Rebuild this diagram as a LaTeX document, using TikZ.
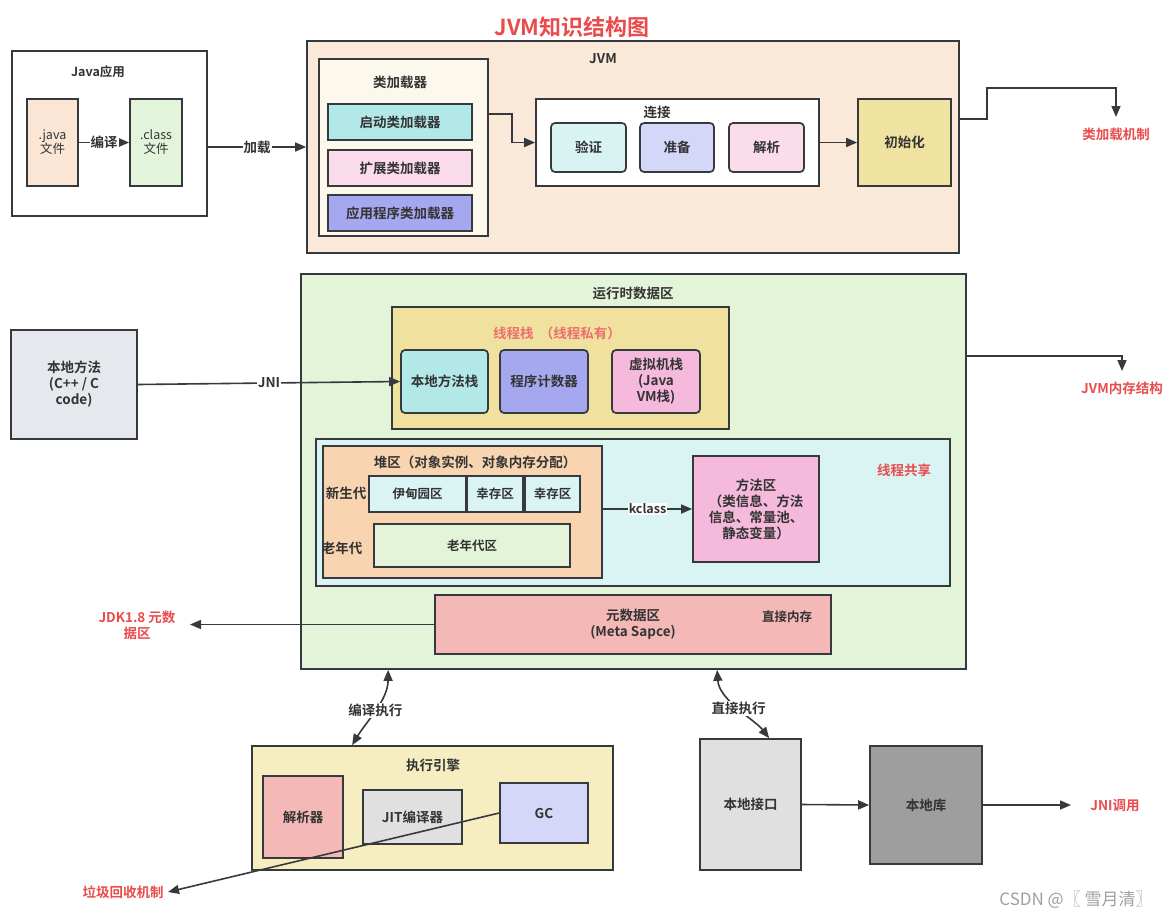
\documentclass[tikz,border=0pt]{standalone}
\usepackage{fontspec}
\setmainfont{Noto Sans CJK SC}[BoldFont={Noto Sans CJK SC Bold}]
\usetikzlibrary{arrows.meta}
\definecolor{bd}{HTML}{36393D}
\definecolor{tx}{HTML}{333333}
\definecolor{rd}{HTML}{EA4B4B}
\definecolor{rdl}{HTML}{EE6E6E}
\definecolor{cpeach}{HTML}{FBE5D5}
\definecolor{clgreen}{HTML}{E2F4DA}
\definecolor{cjvm}{HTML}{FAE8D8}
\definecolor{ccream}{HTML}{FCF8EB}
\definecolor{ccyan}{HTML}{B3E8E9}
\definecolor{cpink}{HTML}{FADCEB}
\definecolor{cviolet}{HTML}{A5A8EF}
\definecolor{clcyan}{HTML}{D7F4F3}
\definecolor{clviolet}{HTML}{D4D7F7}
\definecolor{ckhaki}{HTML}{F0E2A0}
\definecolor{crt}{HTML}{E3F4D9}
\definecolor{cgrayblue}{HTML}{E5E9ED}
\definecolor{cstack}{HTML}{F0E19E}
\definecolor{cmag}{HTML}{F5B9DC}
\definecolor{cshared}{HTML}{DAF3F3}
\definecolor{cheap}{HTML}{F8D4B0}
\definecolor{crose}{HTML}{F4B8B6}
\definecolor{cengine}{HTML}{F6EDC0}
\definecolor{clgray}{HTML}{E0E0E0}
\definecolor{cdgray}{HTML}{9E9E9E}
\definecolor{cwm}{HTML}{A0A0A0}
\tikzset{
  bx/.style={draw=bd, line width=1.7pt, inner sep=0pt, align=center, text=tx, font=\fontsize{13.5}{16}\selectfont\bfseries},
  rbx/.style={bx, rounded corners=4pt},
  lbl/.style={inner sep=1pt, align=center, text=tx, font=\fontsize{13.5}{16}\selectfont\bfseries},
  slbl/.style={inner sep=1pt, align=center, text=tx, font=\fontsize{12.5}{14}\selectfont\bfseries},
  rlbl/.style={inner sep=1pt, align=center, text=rd, font=\fontsize{13.5}{16}\selectfont\bfseries},
  arr/.style={draw=bd, line width=1.6pt, -{Triangle[length=11pt,width=9pt]}},
  darr/.style={draw=bd, line width=1.6pt, {Triangle[length=11pt,width=9pt]}-{Triangle[length=11pt,width=9pt]}},
  wl/.style={lbl, fill=white, inner sep=1pt},
}
\begin{document}
\begin{tikzpicture}[x=1pt,y=-1pt]
\useasboundingbox (0,0) rectangle (1170,919);
\fill[white] (0,0) rectangle (1170,919);
% title
\node[text=rd, font=\fontsize{22}{26}\selectfont\bfseries] (title) at (572,27) {JVM知识结构图};
% Java app
\node[bx, fill=white, minimum width=195pt, minimum height=165pt] (javaapp) at (109.5,133.5) {};
\node[slbl] (javaappt) at (98,72) {Java应用};
\node[bx, fill=cpeach, minimum width=51pt, minimum height=87pt, font=\fontsize{12.5}{14}\selectfont] (javaf) at (52.5,142.5) {.java\\文件};
\node[bx, fill=clgreen, minimum width=52pt, minimum height=87pt, font=\fontsize{12.5}{14}\selectfont] (classf) at (156,142.5) {.class\\文件};
\draw[arr] (javaf.east) -- node[wl] {编译} (classf.west);
% JVM
\node[bx, fill=cjvm, minimum width=652pt, minimum height=212pt] (jvm) at (633,147) {};
\node[lbl] (jvmt) at (603,59) {JVM};
\draw[arr] (javaapp.east |- jvm.west) -- node[wl] {加载} (jvm.west);
\node[bx, fill=ccream, minimum width=169pt, minimum height=177pt] (loader) at (403.5,147.5) {};
\node[lbl] (loadert) at (400,82) {类加载器};
\node[bx, fill=ccyan, minimum width=144pt, minimum height=36pt] (boot) at (400,122) {启动类加载器};
\node[bx, fill=cpink, minimum width=144pt, minimum height=36pt] (ext) at (400,168) {扩展类加载器};
\node[bx, fill=cviolet, minimum width=144pt, minimum height=36pt] (app) at (400,213) {应用程序类加载器};
\node[bx, fill=white, minimum width=283pt, minimum height=87pt] (link) at (677.5,142.5) {};
\node[lbl] (linkt) at (657,112) {连接};
\node[rbx, fill=clcyan, minimum width=75pt, minimum height=49pt] (verify) at (588.5,147.5) {验证};
\node[rbx, fill=clviolet, minimum width=74pt, minimum height=49pt] (prepare) at (677,147.5) {准备};
\node[rbx, fill=cpink, minimum width=75pt, minimum height=49pt] (resolve) at (766.5,147.5) {解析};
\node[bx, fill=ckhaki, minimum width=93pt, minimum height=87pt] (init) at (904.5,142.5) {初始化};
\draw[arr] ([yshift=33.5pt]loader.east) -- ++(23,0) |- (link.west);
\draw[arr] (link.east) -- (init.west);
\node[rlbl] (clm) at (1116,134) {类加载机制};
\coordinate (clmtip) at (1116,117);
\draw[arr] ([yshift=28pt]jvm.east) -- (987,119) -- (987,88) -- (1116,88) -- (clmtip);
% runtime data area
\node[bx, fill=crt, minimum width=665pt, minimum height=395pt] (rt) at (633.5,471.5) {};
\node[lbl] (rtt) at (633,293) {运行时数据区};
\node[bx, fill=cgrayblue, minimum width=126pt, minimum height=109pt] (native) at (74,384.5) {本地方法\\(C++ / C\\code)};
\node[bx, fill=cstack, minimum width=337pt, minimum height=122pt] (tstack) at (560.5,368) {};
\node[inner sep=1pt, text=rdl, font=\fontsize{13.5}{16}\selectfont\bfseries] (tstackt) at (557,333) {线程栈\ \ （线程私有）};
\node[rbx, fill=ccyan, minimum width=87pt, minimum height=63pt] (nms) at (444.5,381.5) {本地方法栈};
\node[rbx, fill=cviolet, minimum width=88pt, minimum height=63pt] (pc) at (544,381.5) {程序计数器};
\node[rbx, fill=cmag, minimum width=88pt, minimum height=63pt] (vms) at (656,381.5) {虚拟机栈\\(Java\\VM栈)};
\draw[arr] (native.east) -- node[wl] {JNI} (nms.west);
\node[bx, fill=cshared, minimum width=634pt, minimum height=147pt] (shared) at (633,512.5) {};
\node[rlbl] (sharedt) at (904,470) {线程共享};
\node[bx, fill=cheap, minimum width=279pt, minimum height=132pt] (heap) at (462.5,512) {};
\node[lbl] (heapt) at (475,462) {堆区（对象实例、对象内存分配）};
\node[lbl] (young) at (346,493) {新生代};
\node[lbl] (oldt) at (342,548) {老年代};
\node[bx, fill=cshared, minimum width=97pt, minimum height=36pt, font=\fontsize{12.5}{14}\selectfont\bfseries] (eden) at (417.5,494) {伊甸园区};
\node[bx, fill=cshared, minimum width=56pt, minimum height=36pt, font=\fontsize{12.5}{14}\selectfont\bfseries] (s1) at (495,494) {幸存区};
\node[bx, fill=cshared, minimum width=55pt, minimum height=36pt, font=\fontsize{12.5}{14}\selectfont\bfseries] (s2) at (552.5,494) {幸存区};
\node[bx, fill=crt, minimum width=196pt, minimum height=43pt, font=\fontsize{12.5}{14}\selectfont\bfseries] (old) at (472,545.5) {老年代区};
\node[bx, fill=cmag, minimum width=126pt, minimum height=106pt] (method) at (756,509) {方法区\\（类信息、方法\\信息、常量池、\\静态变量）};
\draw[arr] (heap.east |- method.west) -- node[wl, font=\fontsize{12.5}{14}\selectfont\bfseries] {kclass} (method.west);
\node[bx, fill=crose, minimum width=396pt, minimum height=59pt] (meta) at (633,624.5) {元数据区\\(Meta Sapce)};
\node[slbl] (direct) at (787,617) {直接内存};
\node[rlbl] (jdk) at (137,625) {JDK1.8 元数\\据区};
\coordinate (jdktip) at (190,624.5);
\draw[arr] (meta.west) -- (jdktip);
\node[rlbl] (mem) at (1122,388) {JVM内存结构};
\coordinate (memtip) at (1122,371);
\draw[arr] ([yshift=115.5pt]rt.east) -- (1122,356) -- (memtip);
% execution engine
\node[bx, fill=cengine, minimum width=361pt, minimum height=124pt] (engine) at (432.5,808) {};
\node[lbl] (enginet) at (433,765) {执行引擎};
\node[bx, fill=crose, minimum width=80pt, minimum height=82pt] (interp) at (303,817) {解析器};
\node[bx, fill=clgray, minimum width=99pt, minimum height=54pt] (jit) at (412.5,817) {JIT编译器};
\node[bx, fill=clviolet, minimum width=88pt, minimum height=60pt] (gc) at (544,813) {GC};
\node[rlbl] (gcl) at (123,892) {垃圾回收机制};
\coordinate (gctip) at (168,892);
\draw[arr] (gc.west) -- (gctip);
\draw[darr] ([xshift=88pt]rt.south west) .. controls (388,700) and (366,722) .. node[wl, pos=0.5] {编译执行} ([xshift=101pt]engine.north west);
% native
\node[bx, fill=clgray, minimum width=101pt, minimum height=131pt] (nif) at (750.5,804.5) {本地接口};
\node[bx, fill=cdgray, minimum width=112pt, minimum height=118pt] (nlib) at (926,805) {本地库};
\draw[darr] ([xshift=417pt]rt.south west) .. controls (719,700) and (755,720) .. node[wl, pos=0.5] {直接执行} ([xshift=70pt]nif.north west);
\draw[arr] (nif.east) -- (nlib.west);
\node[rlbl] (jnic) at (1115,805) {JNI调用};
\coordinate (jnictip) at (1071,805);
\draw[arr] (nlib.east) -- (jnictip);
% watermark
\node[text=cwm, font=\fontsize{17}{20}\selectfont, inner sep=0pt] (wm) at (1076,900) {CSDN @〖 雪月清〗};
\end{tikzpicture}
\end{document}
